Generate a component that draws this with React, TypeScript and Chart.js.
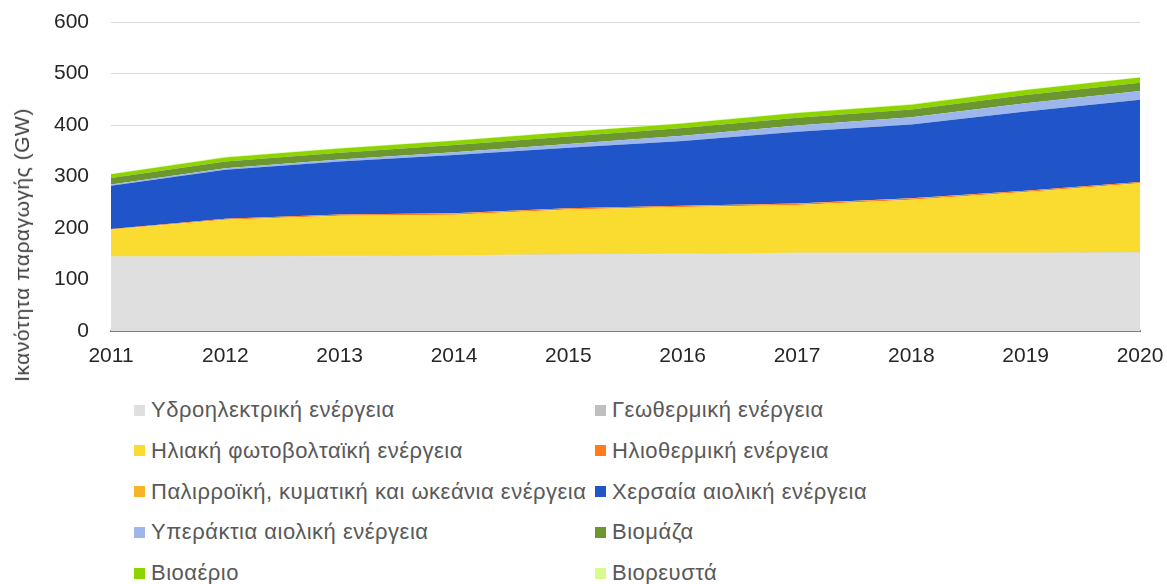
import React, { useEffect, useRef } from "react";
import { Chart, registerables } from "chart.js";

Chart.register(...registerables);

const years = ["2011", "2012", "2013", "2014", "2015", "2016", "2017", "2018", "2019", "2020"];
const yTicks = [0, 100, 200, 300, 400, 500, 600];

const hydro = [144, 144, 145, 146, 148, 149, 151, 151, 151, 152];
const geothermal = [0.9, 0.9, 0.9, 0.9, 0.9, 0.9, 0.9, 1.0, 1.0, 1.0];
const solarPv = [52, 71, 78, 79, 87, 91, 93, 103, 118, 134];
const solarThermal = [1.1, 1.9, 2.2, 2.3, 2.3, 2.3, 2.3, 2.3, 2.3, 2.3];
const tidal = [0.24, 0.24, 0.24, 0.24, 0.24, 0.24, 0.24, 0.24, 0.24, 0.24];
const onshore = [84, 95, 103, 113.5, 117.5, 125.5, 139.5, 143.5, 153.5, 159.5];
const offshore = [2, 3, 3.5, 5, 7, 10, 12, 14, 16, 17];
const biomass = [13, 13, 13.5, 14, 14.5, 15, 15, 15, 16, 16];
const biogas = [7, 8, 8, 8.5, 8.8, 9, 9.3, 9.5, 9.7, 10];
const bioliquids = [1.2, 1.2, 1.1, 1.1, 1.1, 1.1, 1.1, 1.1, 1.1, 1.0];

const seriesNames = [
  "Υδροηλεκτρική ενέργεια",
  "Γεωθερμική ενέργεια",
  "Ηλιακή φωτοβολταϊκή ενέργεια",
  "Ηλιοθερμική ενέργεια",
  "Παλιρροϊκή, κυματική και ωκεάνια ενέργεια",
  "Χερσαία αιολική ενέργεια",
  "Υπεράκτια αιολική ενέργεια",
  "Βιομάζα",
  "Βιοαέριο",
  "Βιορευστά",
];
const seriesValues = [hydro, geothermal, solarPv, solarThermal, tidal, onshore, offshore, biomass, biogas, bioliquids];
const seriesColors = [
  "#DFDFDF",
  "#BFBFBF",
  "#FADB30",
  "#FF7B1C",
  "#F6B426",
  "#1F55C8",
  "#9DB6EC",
  "#6B9630",
  "#8DD400",
  "#D9FA8F",
];

const yTitle = "Ικανότητα παραγωγής (GW)";

const W = 1167;
const CANVAS_H = 384;

export default function App() {
  const ref = useRef<HTMLCanvasElement | null>(null);

  useEffect(() => {
    if (!ref.current) return;
    const chart = new Chart(ref.current, {
      type: "line",
      data: {
        labels: years,
        datasets: seriesNames.map((name, i) => ({
          label: name,
          data: seriesValues[i],
          backgroundColor: seriesColors[i],
          borderColor: seriesColors[i],
          borderWidth: 0,
          pointRadius: 0,
          tension: 0,
          fill: i === 0 ? "origin" : "-1",
        })),
      },
      options: {
        responsive: false,
        animation: false,
        layout: { padding: { top: 22, right: 27, left: 0, bottom: 0 } },
        plugins: {
          legend: { display: false },
          tooltip: { enabled: false },
        },
        scales: {
          x: {
            type: "category",
            offset: false,
            grid: {
              display: true,
              color: "rgba(0,0,0,0)",
              tickColor: "rgba(0,0,0,0)",
              drawTicks: true,
              tickLength: 10,
            },
            border: { display: true, color: "#7F7F7F", width: 2 },
            ticks: {
              color: "#262626",
              font: { family: "'Liberation Sans', Arial, sans-serif", size: 21 },
              padding: 3,
              maxRotation: 0,
              autoSkip: false,
            },
            afterFit: (s: any) => {
              s.height = CANVAS_H - 331;
            },
          },
          y: {
            stacked: true,
            min: 0,
            max: 600,
            afterBuildTicks: (s: any) => {
              s.ticks = yTicks.map((v) => ({ value: v }));
            },
            grid: {
              color: "#D9D9D9",
              lineWidth: 1,
              drawTicks: true,
              tickLength: 19,
              tickColor: "rgba(0,0,0,0)",
            },
            border: { display: false },
            ticks: {
              color: "#262626",
              font: { family: "'Liberation Sans', Arial, sans-serif", size: 21 },
              padding: 3,
            },
            afterFit: (s: any) => {
              s.width = 111;
            },
          },
        },
      },
    });
    return () => chart.destroy();
  }, []);

  const rowTop = 410;
  const rowGap = 40.8;

  return (
    <div
      style={{
        position: "fixed",
        left: 0,
        top: 0,
        width: W,
        height: 584,
        background: "#fff",
        overflow: "hidden",
        fontFamily: "'Liberation Sans', Arial, sans-serif",
      }}
    >
      <canvas ref={ref} width={W} height={CANVAS_H} style={{ position: "absolute", left: 0, top: 0 }} />
      <div
        style={{
          position: "absolute",
          left: 22,
          top: 245,
          transform: "translate(-50%, -50%) rotate(-90deg)",
          whiteSpace: "nowrap",
          fontSize: 21,
          letterSpacing: 0.5,
          color: "#404040",
        }}
      >
        {yTitle}
      </div>
      {seriesNames.map((name, i) => {
        const col = i % 2;
        const row = Math.floor(i / 2);
        const sqLeft = col === 0 ? 134 : 595;
        const cy = rowTop + row * rowGap;
        return (
          <div key={name}>
            <div
              style={{
                position: "absolute",
                left: sqLeft,
                top: cy - 5.5,
                width: 11,
                height: 11,
                background: seriesColors[i],
              }}
            />
            <div
              style={{
                position: "absolute",
                left: sqLeft + 17,
                top: cy - 13,
                height: 26,
                lineHeight: "26px",
                fontSize: 22,
                letterSpacing: 0.5,
                color: "#595959",
                whiteSpace: "nowrap",
              }}
            >
              {name}
            </div>
          </div>
        );
      })}
    </div>
  );
}
